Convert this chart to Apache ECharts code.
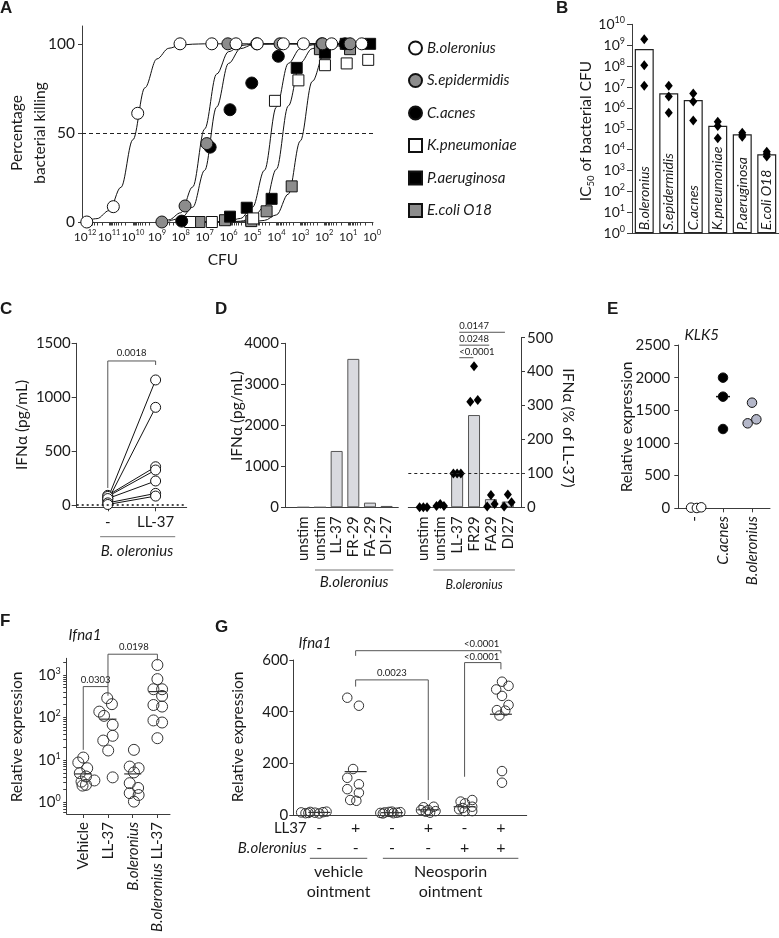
<!DOCTYPE html>
<html>
<head>
<meta charset="utf-8">
<script src="https://cdn.jsdelivr.net/npm/echarts@6/dist/echarts.min.js"></script>
<style>
  html, body { margin: 0; background: #fff; }
  #main { width: 779px; height: 938px; }
</style>
</head>
<body>
<div id="main"></div>
<script>
// ---------- data ----------
// A: killing curves. x = log10(CFU), y = % bacterial killing
const speciesA = ['B.oleronius', 'S.epidermidis', 'C.acnes', 'K.pneumoniae', 'P.aeruginosa', 'E.coli O18'];
const cfuBol = [11.93, 10.82, 9.8, 8.03, 6.7, 5.69, 4.8, 3.71, 2.87, 1.69, 0.43];
const killBol = [0, 8.6, 61, 100, 100, 100, 100, 100, 100, 100, 100];
const cfuSepi = [8.79, 7.82, 6.91, 6.03, 4.82, 3.85, 2.07, 0.92];
const killSepi = [0, 9, 44, 100, 100, 100, 100, 100];
const cfuCacn = [7.96, 6.77, 5.94, 5.03, 3.92, 2.1, 1.13];
const killCacn = [0.5, 42, 63, 78, 93, 100, 100];
const cfuKpn = [7.61, 6.7, 4.97, 4.06, 3.08, 1.97, 1.06, 0.16];
const killKpn = [0, 0, 2, 68, 79.5, 88, 89, 91];
const cfuPae = [5.94, 5.24, 4.2, 3.15, 1.97, 1.1, 0.08];
const killPae = [3, 8, 13, 86.5, 95, 100, 100];
const cfuEco = [7.22, 6.15, 5.05, 4.41, 3.36, 2.18, 0.92, -0.1];
const killEco = [0, 1, 0.5, 6, 20, 97, 97, 100];

// fitted curves
const fitBolX = [12, 11.5, 11, 10.5, 10, 9.5, 9, 8.5, 8, 7.5, 7, 0];
const fitBolY = [0.5, 1.9, 6.4, 19.5, 46.2, 75.3, 91.5, 97.5, 99.3, 99.8, 100, 100];
const fitSepiX = [8.8, 8.5, 8, 7.5, 7, 6.5, 6, 5.5, 5, 4, 0.9];
const fitSepiY = [0.5, 1.2, 5.2, 19.7, 52.2, 83, 95.6, 99, 99.8, 100, 100];
const fitCacnX = [8.5, 8, 7.5, 7, 6.5, 6, 5.5, 5, 4.5, 4, 1];
const fitCacnY = [0.45, 2, 8.3, 29, 64.5, 89, 97.3, 99.4, 99.9, 100, 100];
const fitKpnX = [7.6, 6.5, 6, 5.5, 5, 4.5, 4, 3.5, 3, 2.5, 2, 0.16];
const fitKpnY = [0, 0.1, 0.45, 2, 8.3, 29, 64.5, 89, 97.3, 99.4, 99.9, 100];
const fitPaeX = [7.6, 6.5, 6, 5.5, 5, 4.5, 4, 3.5, 3, 2.5, 2, 1.5, 0.08];
const fitPaeY = [0, 0, 0.1, 0.47, 2.05, 8.6, 29.6, 65.2, 89.3, 97.3, 99.4, 99.9, 100];
const fitEcoX = [7.2, 6, 5, 4.5, 4, 3.5, 3, 2.5, 2, 1.5, 1, -0.1];
const fitEcoY = [0, 0, 0.2, 0.9, 4, 15.7, 45.5, 78.9, 94.3, 98.7, 99.7, 100];
const cfuTicks = [0, 1, 2, 3, 4, 5, 6, 7, 8, 9, 10, 11, 12];

// B: IC50 of bacterial CFU
const ic50Bar = [6.6e8, 5e6, 2.4e6, 1.4e5, 5.5e4, 6e3];
const ic50Reps = [
  [1.9e9, 1.1e8, 1.15e7],
  [1.15e7, 3.5e6, 5.9e5],
  [4.9e6, 2e6, 2.5e5],
  [2.2e5, 1.35e5, 3.5e4],
  [6.5e4, 5e4, 4.2e4],
  [7.9e3, 6.2e3, 4.7e3]
];

// C: paired IFNa (pg/mL)
const cGroups = ['-', 'LL-37'];
const cUnstim = [60, 40, 90, 80, 60, 20, 5];
const cLL37 = [1160, 906, 355, 325, 223, 108, 83];

// D: IFNa (pg/mL) and % of LL-37
const dCats = ['unstim', 'unstim', 'LL-37', 'FR-29', 'FA-29', 'DI-27'];
const dPg = [0, 0, 1374, 3620, 114, 33];
const dCatsPct = ['unstim', 'unstim', 'LL-37', 'FR29', 'FA29', 'DI27'];
const dPctBar = [2, 4, 100, 272, 24, 17];
const dPctReps = [[0, 0, 0], [4, 10, 4], [100, 100, 100], [311, 416, 316], [2, 36, 10], [2, 38, 15]];

// E: KLK5 relative expression
const eCats = ['-', 'C.acnes', 'B.oleronius'];
const eVals = [[10, 5, 15], [2000, 1709, 1214], [1617, 1301, 1362]];
const eMedian = [null, 1710, null];

// F: Ifna1 relative expression (log)
const fCats = ['Vehicle', 'LL-37', 'B.oleronius', 'B.oleronius LL-37'];
const fVals = [
  [11.4, 8.7, 6.4, 4.9, 4.1, 3.1, 2.6, 2.5],
  [283, 205, 137, 109, 67, 37, 28.6, 16.7, 3.9, 3.3],
  [17.3, 7, 6.4, 5.1, 2.85, 2.2, 1.66, 1.5, 1.05],
  [1710, 795, 460, 460, 320, 196, 180, 85, 76, 32.5]
];
const fMedian = [4.7, 91, 4.7, 405];
const fTicks = [0, 1, 2, 3];

// G: Ifna1 relative expression
const gLL37 = ['-', '+', '-', '+', '-', '+'];
const gBol = ['-', '-', '-', '-', '+', '+'];
const gVals = [
  [10, 7, 12, 9, 6, 11, 13, 8],
  [454, 423, 178, 144, 119, 100, 86, 58, 55],
  [8, 10, 12, 7, 9, 11, 6, 13],
  [30, 19, 32, 13, 15, 19, 9],
  [22, 52, 45, 58, 32, 15, 15, 27],
  [516, 500, 486, 461, 426, 406, 404, 385, 170, 125]
];
const gMedian = [10, 168, 9, 20, 32, 390];

// ---------- layout (jitter of dots inside a column, in category units) ----------
const dJit = [-0.22, 0, 0.22];
const eJit = [[-0.1, 0.1, 0.25], [0, 0, 0], [0, -0.15, 0.15]];
const fJit = [
  [0, -0.2, 0.16, -0.14, 0.11, -0.07, 0.11, -0.03],
  [-0.03, 0.16, -0.35, -0.16, 0.19, 0.19, -0.19, 0.01, 0.19, -0.55],
  [0.05, -0.12, 0.24, 0.05, -0.12, 0.22, -0.12, 0.24, 0.05],
  [0, 0, -0.16, 0.19, 0.19, -0.16, 0.19, -0.16, 0.19, 0]
];
const gJit = [
  [-0.5, -0.38, -0.25, -0.12, 0, 0.1, 0.2, -0.3],
  [-0.23, 0.09, -0.07, -0.23, 0.09, -0.23, 0.09, -0.15, 0.02],
  [-0.32, -0.2, -0.08, 0.04, 0.14, 0.23, -0.25, 0],
  [-0.13, 0, 0.15, -0.07, 0.2, -0.2, 0.05],
  [-0.15, -0.11, 0.01, 0.21, 0.21, 0.21, 0, -0.05],
  [0.03, 0.21, -0.13, 0.03, 0.21, -0.11, 0.12, -0.04, 0.03, 0.03]
];

const FONT = 'Lato, "Noto Sans", sans-serif';
const INK = '#1a1a1a';
const AXC = '#3c3c3c';
const FS = 15;

function merge(a, b) {
  const o = Object.assign({}, a);
  for (const k in b) {
    if (b[k] && typeof b[k] === 'object' && !Array.isArray(b[k]) && a[k] && typeof a[k] === 'object') o[k] = merge(a[k], b[k]);
    else o[k] = b[k];
  }
  return o;
}
function axis(o) {
  return merge({
    type: 'value',
    axisLine: { show: true, onZero: false, lineStyle: { color: AXC, width: 1 } },
    axisTick: { show: true, length: 4, lineStyle: { color: AXC } },
    axisLabel: { color: INK, fontSize: FS, fontFamily: FONT, margin: 6, formatter: v => String(v),
      showMinLabel: true, showMaxLabel: true },
    splitLine: { show: false }
  }, o);
}
function supRich(fs, sup) {
  return {
    b: { fontSize: fs, fontFamily: FONT, color: INK, lineHeight: 17 },
    s: { fontSize: sup || Math.round(fs * 0.62), fontFamily: FONT, color: INK, verticalAlign: 'top' },
    i: { fontSize: fs, fontFamily: FONT, color: INK, fontStyle: 'italic' }
  };
}
const pow10 = v => '{b|10}{s|' + v + '}';
const zip = (xs, ys) => xs.map((x, i) => [x, ys[i]]);
// log-spaced minor tick positions (layout only)
const minorTicks = (lo, hi) => {
  const out = [];
  for (let n = lo; n < hi; n++) for (let k = 2; k < 10; k++) out.push(n + Math.log10(k));
  return out;
};

const dot = (color, size, sym) => ({ symbol: sym || 'circle', symbolSize: size, itemStyle: { color: color, borderColor: '#111', borderWidth: 1, opacity: 1 } });
const ring = { color: 'rgba(255,255,255,0)', borderColor: '#333', borderWidth: 1, opacity: 1 };

// ---------- series ----------
const series = [];
// A
const fits = [[fitBolX, fitBolY], [fitSepiX, fitSepiY], [fitCacnX, fitCacnY], [fitKpnX, fitKpnY], [fitPaeX, fitPaeY], [fitEcoX, fitEcoY]];
fits.forEach((f, i) => {
  const s = {
    type: 'line', xAxisIndex: 0, yAxisIndex: 0, data: zip(f[0], f[1]), showSymbol: false,
    smooth: 0.35, smoothMonotone: 'x', silent: true, lineStyle: { color: '#111', width: 1 }, z: 2
  };
  if (i === 0) s.markLine = { silent: true, symbol: 'none', label: { show: false }, lineStyle: { type: [4, 3], color: '#222', width: 1 }, data: [{ yAxis: 50 }] };
  series.push(s);
});
const ptsA = [[cfuBol, killBol], [cfuSepi, killSepi], [cfuCacn, killCacn], [cfuKpn, killKpn], [cfuPae, killPae], [cfuEco, killEco]];
const styleA = [dot('#fff', 12), dot('#8c8c8c', 12), dot('#000', 12), dot('#fff', 11, 'rect'), dot('#000', 11, 'rect'), dot('#8c8c8c', 11, 'rect')];
ptsA.forEach((p, i) => {
  series.push(Object.assign({ type: 'scatter', name: speciesA[i], xAxisIndex: 0, yAxisIndex: 0, data: zip(p[0], p[1]), z: 3 + (5 - i) }, styleA[i]));
});
// B
series.push({
  type: 'bar', xAxisIndex: 1, yAxisIndex: 1, data: ic50Bar.map(v => Math.log10(v)), barWidth: 19,
  itemStyle: { color: '#fff', borderColor: '#222', borderWidth: 1.2 },
  label: { show: true, position: 'insideBottom', rotate: 90, align: 'left', verticalAlign: 'middle', distance: 3,
    formatter: '{b}', fontStyle: 'italic', fontSize: 14, color: INK, fontFamily: FONT }
});
series.push({
  type: 'scatter', xAxisIndex: 1, yAxisIndex: 1, symbol: 'diamond', symbolSize: [8, 10], itemStyle: { color: '#000', opacity: 1 },
  data: ic50Reps.flatMap((r, i) => r.map(v => [i, Math.log10(v)]))
});
// C
cUnstim.forEach((v, i) => {
  const s = {
    type: 'line', xAxisIndex: 2, yAxisIndex: 2, data: [[0, v], [1, cLL37[i]]], symbol: 'circle', symbolSize: 10,
    itemStyle: { color: '#fff', borderColor: '#111', borderWidth: 1 }, lineStyle: { color: '#111', width: 1 }
  };
  if (i === 0) s.markLine = { silent: true, symbol: 'none', label: { show: false }, lineStyle: { type: [2, 3], color: '#111', width: 1.5 }, data: [{ yAxis: 0 }] };
  series.push(s);
});
// D left
series.push({
  type: 'bar', xAxisIndex: 3, yAxisIndex: 3, data: dPg.map((v, i) => [i, v]), barWidth: 12,
  itemStyle: { color: '#d9dadf', borderColor: '#555', borderWidth: 1 }
});
// D right
series.push({
  type: 'bar', xAxisIndex: 4, yAxisIndex: 4, data: dPctBar.map((v, i) => [i, v]), barWidth: 12,
  itemStyle: { color: '#d9dadf', borderColor: '#555', borderWidth: 1 },
  markLine: { silent: true, symbol: 'none', label: { show: false }, lineStyle: { type: [3, 3], color: '#222', width: 1 }, data: [{ yAxis: 100 }] }
});
series.push({
  type: 'scatter', xAxisIndex: 4, yAxisIndex: 4, symbol: 'diamond', symbolSize: [8, 10], itemStyle: { color: '#000', opacity: 1 },
  data: dPctReps.flatMap((r, i) => r.map((v, j) => [i + dJit[j], v]))
});
// E
const eColors = ['#fff', '#000', '#b4b7c9'];
series.push({
  type: 'scatter', xAxisIndex: 5, yAxisIndex: 5, symbol: 'rect', symbolSize: [14, 1.5], itemStyle: { color: '#111', opacity: 1 },
  data: eMedian.map((m, i) => m === null ? null : [i, m]).filter(Boolean)
});
eVals.forEach((g, i) => {
  series.push(Object.assign({ type: 'scatter', xAxisIndex: 5, yAxisIndex: 5, data: g.map((v, j) => [i + eJit[i][j], v]) }, dot(eColors[i], 9.5)));
});
// F
series.push({
  type: 'scatter', xAxisIndex: 6, yAxisIndex: 6, symbol: 'rect', symbolSize: [17, 1.2], itemStyle: { color: '#333', opacity: 1 },
  data: fMedian.map((m, i) => [i, Math.log10(m)])
});
fVals.forEach((g, i) => {
  series.push({ type: 'scatter', xAxisIndex: 6, yAxisIndex: 6, symbol: 'circle', symbolSize: 11, itemStyle: ring,
    data: g.map((v, j) => [i + fJit[i][j], Math.log10(v)]) });
});
// G
series.push({
  type: 'scatter', xAxisIndex: 7, yAxisIndex: 7, symbol: 'rect', symbolSize: [22, 1.2], itemStyle: { color: '#333', opacity: 1 },
  data: gMedian.map((m, i) => [i, m])
});
gVals.forEach((g, i) => {
  series.push({ type: 'scatter', xAxisIndex: 7, yAxisIndex: 7, symbol: 'circle', symbolSize: 9.5, itemStyle: ring,
    data: g.map((v, j) => [i + gJit[i][j], v]) });
});

// ---------- option ----------
const G = (l, t, w, h) => ({ left: l, top: t, width: w, height: h, outerBoundsMode: 'none', containLabel: false });
const option = {
  animation: false,
  backgroundColor: '#fff',
  textStyle: { fontFamily: FONT },
  grid: [
    G(82, 26, 291, 196),        // A
    G(632, 24.3, 147, 209),     // B
    G(76.7, 343.3, 110, 164),   // C
    G(285, 343.3, 113.3, 164),  // D left
    G(408.3, 337.7, 112.7, 169.6), // D right
    G(678.3, 345, 91.7, 163.3), // E
    G(66.7, 658.3, 103.3, 155.7), // F
    G(293.3, 660, 233.4, 155)   // G
  ],
  xAxis: [
    axis({ gridIndex: 0, position: 'bottom', min: -0.04, max: 12.13, inverse: true,
      axisTick: { customValues: cfuTicks.concat(minorTicks(0, 12)), length: 3.5 },
      axisLabel: { customValues: cfuTicks, formatter: pow10, margin: 7, rich: supRich(12, 7.5), hideOverlap: false } }),
    { type: 'category', gridIndex: 1, data: speciesA, axisLine: { show: true, lineStyle: { color: AXC } },
      axisTick: { show: false }, axisLabel: { show: false }, splitLine: { show: false } },
    axis({ gridIndex: 2, min: -0.65, max: 1.65,
      axisTick: { customValues: [0, 1] },
      axisLabel: { customValues: [0, 1], formatter: v => cGroups[v], margin: 7 } }),
    axis({ gridIndex: 3, min: -1.1, max: 5.7, axisTick: { show: false },
      axisLabel: { customValues: [0, 1, 2, 3, 4, 5], formatter: v => dCats[v], rotate: 90, margin: 9 } }),
    axis({ gridIndex: 4, min: -0.89, max: 5.78, axisTick: { show: false },
      axisLabel: { customValues: [0, 1, 2, 3, 4, 5], formatter: v => dCatsPct[v], rotate: 90, margin: 9 } }),
    axis({ gridIndex: 5, min: -0.54, max: 2.62,
      axisTick: { customValues: [0, 1, 2] },
      axisLabel: { customValues: [0, 1, 2], rotate: 90, margin: 8, rich: supRich(FS),
        formatter: v => v === 0 ? eCats[0] : '{i|' + eCats[v] + '}' } }),
    axis({ gridIndex: 6, min: -0.67, max: 3.51,
      axisTick: { customValues: [0, 1, 2, 3] },
      axisLabel: { customValues: [0, 1, 2, 3], rotate: 90, margin: 8, rich: supRich(FS),
        formatter: v => fCats[v].replace('B.oleronius', '{i|B.oleronius}') } }),
    axis({ gridIndex: 7, min: -0.716, max: 5.71, axisTick: { show: false },
      axisLabel: { customValues: [0, 1, 2, 3, 4, 5], formatter: v => gLL37[v] + '\n' + gBol[v], lineHeight: 20, margin: 3, fontSize: 16 } })
  ],
  yAxis: [
    axis({ gridIndex: 0, min: 0, max: 110, axisTick: { customValues: [0, 50, 100] },
      axisLabel: { customValues: [0, 50, 100], fontSize: 15.5, margin: 7, hideOverlap: false } }),
    axis({ gridIndex: 1, min: 0, max: 10, interval: 1, axisTick: { length: 5 },
      axisLabel: { formatter: pow10, margin: 7, rich: supRich(14) } }),
    axis({ gridIndex: 2, min: -21, max: 1500, axisTick: { customValues: [0, 500, 1000, 1500], length: 5 },
      axisLabel: { customValues: [0, 500, 1000, 1500], margin: 6 } }),
    axis({ gridIndex: 3, min: 0, max: 4000, interval: 1000, axisLabel: { margin: 6 } }),
    axis({ gridIndex: 4, position: 'right', min: 0, max: 500, interval: 100, axisLabel: { margin: 6 } }),
    axis({ gridIndex: 5, min: 0, max: 2500, interval: 500, axisLabel: { margin: 8 } }),
    axis({ gridIndex: 6, position: 'left', min: -0.27, max: 3.39,
      axisTick: { customValues: fTicks.concat(minorTicks(-1, 4).filter(v => v > -0.27 && v < 3.39)), length: 3.5 },
      axisLabel: { customValues: fTicks, formatter: pow10, margin: 6, rich: supRich(FS) } }),
    axis({ gridIndex: 7, min: 0, max: 600, interval: 200, axisLabel: { margin: 5 } })
  ],
  legend: [{
    orient: 'vertical', left: 403, top: 35, itemWidth: 13, itemHeight: 13, itemGap: 16.5, selectedMode: false,
    data: speciesA, textStyle: { fontStyle: 'italic', fontSize: 15, color: INK, fontFamily: FONT, lineHeight: 16 }
  }],
  series: series
};

const chart = echarts.init(document.getElementById('main'));
chart.setOption(option);

// ---------- annotations ----------
const P = (xi, yi, x, y) => chart.convertToPixel({ xAxisIndex: xi, yAxisIndex: yi }, [x, y]);
function T(x, y, text, o) {
  o = o || {};
  const st = {
    text: text, fill: INK, fontFamily: o.family || FONT, fontSize: o.size || FS,
    fontStyle: o.italic ? 'italic' : 'normal', fontWeight: o.weight || 'normal',
    align: o.align || 'center', verticalAlign: o.va || 'middle'
  };
  if (o.lh) st.lineHeight = o.lh;
  if (o.rich) st.rich = o.rich;
  return { type: 'text', x: x, y: y, rotation: o.rot || 0, silent: true, z: 100, style: st };
}
function L(x1, y1, x2, y2, c) {
  return { type: 'line', silent: true, z: 90, shape: { x1: x1, y1: y1, x2: x2, y2: y2 }, style: { stroke: c || '#555', lineWidth: 1 } };
}
function bracket(xi, yi, x1, x2, yTop, y1, y2) {
  const pts = [P(xi, yi, x1, y1), P(xi, yi, x1, yTop), P(xi, yi, x2, yTop), P(xi, yi, x2, y2)];
  return { type: 'polyline', silent: true, z: 90, shape: { points: pts }, style: { stroke: '#555', lineWidth: 1, fill: null } };
}
const letter = (x, y, t) => T(x, y, t, { family: '"Liberation Sans", Arial, sans-serif', weight: 'bold', size: 17, align: 'left', va: 'top' });
const UP = Math.PI / 2;
const TITLE = 15.5;
const els = [];

els.push(letter(0, 0, 'A'), letter(556, 0, 'B'), letter(0, 301, 'C'), letter(215, 301, 'D'),
  letter(607, 301, 'E'), letter(0, 613, 'F'), letter(215, 619, 'G'));

// A
els.push(T(28.5, 133, 'Percentage\nbacterial killing', { rot: UP, lh: 23, size: TITLE }));
els.push(T(223, 260, 'CFU', { size: TITLE }));
// B
els.push(T(586, 131, '{a|IC}{s|50}{a| of bacterial CFU}', { rot: UP,
  rich: { a: { fontSize: TITLE, fontFamily: FONT, color: INK, lineHeight: 19 }, s: { fontSize: 9.5, fontFamily: FONT, color: INK, verticalAlign: 'bottom' } } }));
// C
els.push(T(21.7, 425, 'IFNα (pg/mL)', { rot: UP, size: TITLE }));
els.push(bracket(2, 2, 0, 1, 1336, 158, 1299));
(function () { const a = P(2, 2, 0.5, 1336); els.push(T(a[0], a[1] - 8, '0.0018', { size: 9.5 })); })();
(function () { const a = P(2, 2, -0.16, 0), b = P(2, 2, 1.41, 0); els.push(L(a[0], 536.7, b[0], 536.7, '#777')); })();
els.push(T(137, 551, 'B. oleronius', { italic: true }));
// D
els.push(T(236.5, 416, 'IFNα (pg/mL)', { rot: UP, size: TITLE }));
els.push(T(568, 428, 'IFNα (% of LL-37)', { rot: -UP, size: TITLE }));
[[4.83, 516, '0.0147'], [3.9, 478, '0.0248'], [2.96, 441, '<0.0001']].forEach(r => {
  const a = P(4, 4, 2.13, r[1]), b = P(4, 4, r[0], r[1]);
  els.push(L(a[0], a[1], b[0], b[1]));
  els.push(T(a[0], a[1] - 6, r[2], { size: 9.5, align: 'left' }));
});
(function () {
  const a = P(3, 3, 0.7, 0), b = P(3, 3, 5.4, 0);
  els.push(L(a[0], 570, b[0], 570, '#777'));
  els.push(T((a[0] + b[0]) / 2, 582, 'B.oleronius', { italic: true }));
  const c = P(4, 4, 0.59, 0), d = P(4, 4, 5.42, 0);
  els.push(L(c[0], 570, d[0], 570, '#777'));
  els.push(T((c[0] + d[0]) / 2, 585, 'B.oleronius', { italic: true, size: 12.5 }));
})();
// E
els.push(T(701.7, 335, 'KLK5', { italic: true }));
els.push(T(626.7, 427, 'Relative expression', { rot: UP, size: TITLE }));
// F
els.push(T(85, 635, 'Ifna1', { italic: true }));
els.push(T(16.7, 737, 'Relative expression', { rot: UP, size: TITLE }));
els.push(bracket(6, 6, 0, 1, 2.725, 1.238, 2.51));
els.push(bracket(6, 6, 1, 3, 3.486, 2.725, 3.336));
(function () {
  const a = P(6, 6, 0.5, 2.725), b = P(6, 6, 2.05, 3.486);
  els.push(T(a[0], a[1] - 7, '0.0303', { size: 9.5 }));
  els.push(T(b[0], b[1] - 7, '0.0198', { size: 9.5 }));
})();
// G
els.push(T(315, 643.3, 'Ifna1', { italic: true }));
els.push(T(238.3, 737, 'Relative expression', { rot: UP, size: TITLE }));
els.push(bracket(7, 7, 1, 3, 523, 497, 58));
els.push(bracket(7, 7, 1, 5, 636, 616, 626));
els.push(bracket(7, 7, 4, 5, 590, 148, 564));
(function () {
  const a = P(7, 7, 2, 523), b = P(7, 7, 4.47, 636), c = P(7, 7, 4.47, 590);
  els.push(T(a[0], a[1] - 7, '0.0023', { size: 9.5 }));
  els.push(T(b[0], b[1] - 7, '<0.0001', { size: 9.5 }));
  els.push(T(c[0], c[1] - 6, '<0.0001', { size: 9.5 }));
  const l1 = P(7, 7, -0.26, 0), l2 = P(7, 7, 1.32, 0), l3 = P(7, 7, 1.75, 0), l4 = P(7, 7, 5.48, 0);
  els.push(L(l1[0], 858.3, l2[0], 858.3, '#555'), L(l3[0], 858.3, l4[0], 858.3, '#555'));
  els.push(T((l1[0] + l2[0]) / 2, 882, 'vehicle\nointment', { lh: 20, size: 16 }));
  els.push(T((l3[0] + l4[0]) / 2, 882, 'Neosporin\nointment', { lh: 20, size: 16 }));
})();
els.push(T(306.7, 828.3, 'LL37', { align: 'right' }));
els.push(T(306.7, 848.3, 'B.oleronius', { align: 'right', italic: true }));

chart.setOption({ graphic: { elements: els } });
</script>
</body>
</html>
